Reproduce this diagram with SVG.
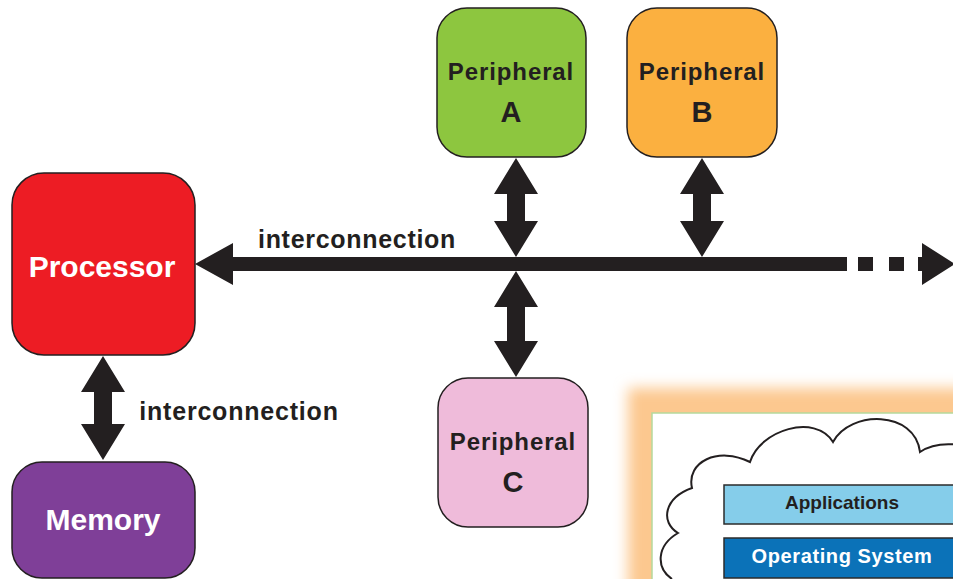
<svg xmlns="http://www.w3.org/2000/svg" width="953" height="579" viewBox="0 0 953 579">
  <defs>
    <style>
      .box { stroke: #231f20; stroke-width: 1.5; }
      .lbl { font-family: "Liberation Sans", Arial, sans-serif; font-weight: bold; fill: #231f20; text-anchor: middle; }
      .wht { fill: #ffffff; }
      .arr { fill: #231f20; }
      .bar { stroke: #2b2b2b; stroke-width: 1.5; }
    </style>
    <filter id="glow" x="-20%" y="-20%" width="140%" height="140%">
      <feGaussianBlur stdDeviation="7"/>
    </filter>
  </defs>

  <rect width="953" height="579" fill="#ffffff"/>

  <!-- system panel (bottom right) -->
  <g id="system-panel">
    <rect x="628" y="388" width="420" height="280" fill="#fcc88f" filter="url(#glow)"/>
    <rect x="652" y="413" width="320" height="190" fill="#ffffff" stroke="#b5d99c" stroke-width="1.5"/>
    <path d="M 672 579 C 656 568, 656 546, 678 533 C 660 522, 664 498, 692 488 C 686 462, 718 446, 750 462 C 760 430, 815 413, 833 442 C 850 410, 915 410, 920 452 C 930 445, 945 443, 960 445"
          fill="none" stroke="#231f20" stroke-width="2"/>
    <g id="applications">
      <rect class="bar" x="724" y="485" width="250" height="39" fill="#85cdea"/>
      <text class="lbl" x="842" y="509" font-size="19">Applications</text>
    </g>
    <g id="operating-system">
      <rect class="bar" x="724" y="538" width="250" height="40" fill="#0b72b8"/>
      <text class="lbl wht" x="842" y="563" font-size="20" letter-spacing="0.6">Operating System</text>
    </g>
  </g>

  <!-- connectors -->
  <g id="connectors">
    <!-- main bus with left arrowhead -->
    <polygon class="arr" points="195,264 233,243 233,257 847,257 847,271 233,271 233,285"/>
    <!-- dashed continuation and right arrowhead -->
    <rect class="arr" x="858" y="257" width="15" height="14"/>
    <rect class="arr" x="889" y="257" width="15" height="14"/>
    <polygon class="arr" points="918,257 922,257 922,243 955,264 922,285 922,271 918,271"/>
    <!-- Peripheral A <-> bus -->
    <polygon class="arr" points="516,158 538,194 525,194 525,221 538,221 516,257 494,221 507,221 507,194 494,194"/>
    <!-- Peripheral B <-> bus -->
    <polygon class="arr" points="702,158 724,194 711,194 711,221 724,221 702,257 680,221 693,221 693,194 680,194"/>
    <!-- bus <-> Peripheral C -->
    <polygon class="arr" points="516,271 538,307 525,307 525,341 538,341 516,377 494,341 507,341 507,307 494,307"/>
    <!-- Processor <-> Memory -->
    <polygon class="arr" points="103,356 125,392 112,392 112,424 125,424 103,460 81,424 94,424 94,392 81,392"/>
    <text class="lbl" x="357" y="248" font-size="25" letter-spacing="0.7">interconnection</text>
    <text class="lbl" x="239" y="420" font-size="25" letter-spacing="0.8">interconnection</text>
  </g>

  <!-- nodes -->
  <g id="processor">
    <rect class="box" x="12" y="173" width="183" height="182" rx="32" fill="#ed1c24"/>
    <text class="lbl wht" x="102" y="277" font-size="30">Processor</text>
  </g>
  <g id="memory">
    <rect class="box" x="12" y="462" width="183" height="116" rx="30" fill="#7f3f98"/>
    <text class="lbl wht" x="103" y="530" font-size="30">Memory</text>
  </g>
  <g id="peripheral-a">
    <rect class="box" x="437" y="8" width="149" height="149" rx="30" fill="#8dc63f"/>
    <text class="lbl" x="511" y="80" font-size="24" letter-spacing="0.9">Peripheral</text>
    <text class="lbl" x="511" y="122" font-size="29">A</text>
  </g>
  <g id="peripheral-b">
    <rect class="box" x="627" y="8" width="150" height="149" rx="30" fill="#fbb040"/>
    <text class="lbl" x="702" y="80" font-size="24" letter-spacing="0.9">Peripheral</text>
    <text class="lbl" x="702" y="122" font-size="29">B</text>
  </g>
  <g id="peripheral-c">
    <rect class="box" x="438" y="378" width="150" height="149" rx="30" fill="#efbbda"/>
    <text class="lbl" x="513" y="450" font-size="24" letter-spacing="0.9">Peripheral</text>
    <text class="lbl" x="513" y="492" font-size="29">C</text>
  </g>
</svg>
